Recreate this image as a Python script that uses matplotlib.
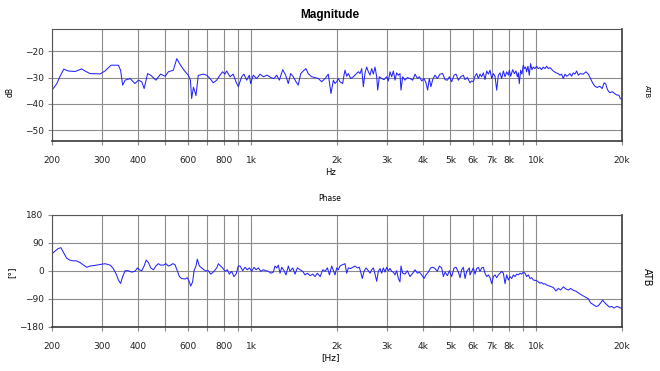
import matplotlib
matplotlib.use("Agg")
import matplotlib.pyplot as plt
from matplotlib.ticker import NullLocator, FixedLocator

# Grid / tick labels
grid_freq = [200, 300, 400, 500, 600, 700, 800, 900, 1000, 2000, 3000, 4000,
             5000, 6000, 7000, 8000, 9000, 10000, 20000]
grid_lbl = ['200', '300', '400', '', '600', '', '800', '', '1k', '2k', '3k', '4k',
            '5k', '6k', '7k', '8k', '', '10k', '20k']
mag_ticks = [-20, -30, -40, -50]
ph_ticks = [180, 90, 0, -90, -180]

# Magnitude (dB)
mag_freq = [200, 208, 213, 220, 228, 241, 254, 261, 272, 295, 307, 322, 342, 348, 354,
            361, 376, 391, 402, 413, 421, 433, 444, 463, 481, 499, 512, 533, 548, 562,
            581, 601, 612, 618, 627, 635, 640, 652,
            679, 698, 717, 736, 757, 777, 794, 809, 820, 843, 865, 884, 901, 926, 943,
            964, 985, 995, 1017, 1045, 1074, 1103, 1139, 1170, 1202, 1229, 1255, 1290,
            1321, 1349, 1376, 1405, 1436, 1462, 1492, 1523, 1556, 1585, 1629, 1674,
            1720, 1768, 1816, 1864, 1905,
            1942, 1968, 1995, 2022, 2049, 2094, 2116, 2134, 2163, 2192, 2234, 2283,
            2332, 2377, 2409, 2442, 2475, 2508, 2542, 2577, 2612, 2647, 2683, 2719,
            2756, 2779, 2816, 2869, 2924, 2988, 3028, 3069, 3111, 3153, 3196, 3239,
            3283, 3327, 3354, 3400, 3465, 3531, 3608, 3687, 3758, 3829, 3891, 3966,
            4041, 4105, 4160, 4216, 4273, 4331, 4415, 4499, 4596, 4697, 4788, 4880,
            4959, 5053, 5150, 5234, 5334, 5435, 5551, 5628, 5736, 5829,
            5858, 5938, 6018, 6100, 6183, 6266, 6351, 6437, 6525, 6613, 6703, 6794,
            6886, 6980, 7074, 7170, 7267, 7366, 7466, 7567, 7670, 7774, 7879, 7986,
            8051, 8138, 8271, 8382, 8494, 8585, 8654, 8724, 8818, 8913, 9009, 9082,
            9180, 9254, 9354, 9455, 9557, 9660, 9764, 9896, 10031, 10167, 10305,
            10445, 10587, 10730, 10876, 11024, 11173, 11479, 11730, 11953, 12115,
            12280, 12446, 12615, 12786, 12959, 13135, 13313, 13494, 13677, 13862,
            14050, 14241, 14629, 14946, 15229, 15517, 15767, 16065, 16370, 16724,
            17040, 17315, 17547, 17782, 18117, 18503, 18850, 19206, 19514, 19722, 20000]
mag_db = [-34.8, -32.3, -29.7, -26.8, -27.5, -27.7, -26.7, -27.5, -28.5, -28.6, -27.5,
          -25.3, -25.3, -27.2, -32.9, -31.0, -30.4, -32.3, -31.0, -31.6, -34.2, -28.5,
          -29.1, -31.0, -28.7, -29.5, -27.8, -27.2, -22.8, -24.9, -27.2, -29.1, -31.0,
          -38.0, -33.7, -35.5, -36.9, -29.2,
          -28.7, -29.1, -30.4, -32.0, -31.0, -29.1, -27.8, -28.7, -27.5, -29.7, -28.7,
          -31.6, -33.5, -29.7, -28.7, -31.0, -29.1, -32.3, -29.1, -30.4, -28.7, -29.7,
          -29.1, -30.0, -30.4, -29.1, -31.0, -27.0, -29.1, -32.3, -28.5, -29.7, -31.6,
          -32.9, -28.5, -27.5, -26.6, -28.5, -29.7, -30.0, -30.4, -31.6, -30.4, -28.7,
          -36.1,
          -31.0, -32.3, -31.6, -30.4, -31.6, -32.3, -29.1, -27.2, -29.5, -28.5, -30.4,
          -29.7, -28.7, -27.8, -28.5, -26.6, -33.5, -28.2, -26.0, -27.8, -29.1, -26.6,
          -28.7, -26.0, -29.7, -34.8, -29.7, -30.4, -30.8, -29.7, -31.3, -27.8, -29.7,
          -27.5, -31.0, -28.2, -29.1, -28.5, -34.8, -29.7, -31.0, -30.0, -30.4, -31.0,
          -28.7, -30.4, -29.7, -31.3, -30.4, -32.0, -34.8, -30.4, -33.5, -30.8, -29.1,
          -30.4, -28.7, -28.5, -30.8, -31.0, -29.7, -31.6, -29.1, -28.7, -31.0, -29.7,
          -29.1, -30.8, -30.0, -31.6,
          -32.0, -31.3, -31.6, -29.5, -28.5, -30.4, -28.7, -29.7, -28.2, -30.8, -27.5,
          -28.7, -27.2, -30.4, -28.5, -29.5, -34.8, -29.1, -28.2, -30.4, -27.5, -29.7,
          -27.8, -29.1, -27.2, -29.5, -27.0, -28.5, -27.5, -29.7, -28.2, -32.3, -27.2,
          -28.7, -25.3, -26.6, -26.0, -27.8, -25.7, -29.1, -24.7, -27.0, -26.0, -26.6,
          -25.7, -26.6, -26.2, -27.0, -26.0, -26.6, -25.7, -26.6, -26.2, -27.5, -28.2,
          -28.5, -29.1, -28.7, -30.4, -28.7, -29.5, -29.1, -28.5, -29.5, -28.2, -28.7,
          -27.5, -29.1, -28.5, -28.7, -27.8, -28.7, -30.4, -32.0, -33.3, -33.8, -33.3,
          -34.2, -32.0, -32.5, -34.6, -35.8, -35.4, -36.1, -36.7, -36.7, -38.0, -38.4]

# Phase (degrees)
ph_freq = [200, 205, 210, 215, 219, 225, 231, 238, 244, 251, 258, 265, 272, 283, 295,
           307, 320, 328, 337, 342, 348, 354, 361, 370, 381, 391, 399, 405, 413, 421,
           428, 436, 444, 454, 463, 472, 481, 492, 502, 512, 522, 530, 540, 551, 560,
           570, 586, 597, 607, 613, 623, 630,
           640, 647, 658, 670, 689, 707, 721, 736, 757, 767, 781, 794, 809, 825, 838,
           854, 870, 885, 901, 914, 934, 951, 969, 985, 1004, 1023, 1040, 1060, 1080,
           1103, 1127, 1149, 1170, 1196, 1212, 1229, 1245, 1262, 1280, 1304, 1325,
           1350, 1368, 1398, 1425, 1452, 1484, 1516, 1545, 1574, 1609, 1644, 1675,
           1707, 1745, 1783, 1817, 1851, 1881, 1917,
           1968, 1995, 2022, 2049, 2077, 2104, 2134, 2163, 2192, 2234, 2270, 2313,
           2358, 2396, 2422, 2454, 2488, 2528, 2577, 2612, 2647, 2683, 2719, 2756,
           2793, 2831, 2869, 2908, 2948, 2988, 3028, 3069, 3111, 3153, 3196, 3239,
           3283, 3327, 3354, 3400, 3465, 3531, 3608, 3687, 3758, 3829, 3891, 3966,
           4041, 4105, 4183, 4262, 4331, 4415, 4499, 4572, 4659, 4722, 4788, 4880,
           4959, 5053, 5150, 5234, 5334, 5405, 5476, 5551, 5628, 5704, 5829,
           5858, 5938, 6018, 6100, 6183, 6266, 6351, 6437, 6525, 6613, 6703, 6794,
           6886, 6980, 7074, 7170, 7267, 7366, 7466, 7567, 7670, 7774, 7879, 7986,
           8094, 8205, 8316, 8428, 8543, 8658, 8775, 8894, 9014, 9136, 9260, 9385,
           9513, 9642, 9771, 10041, 10310, 10453, 10593, 10738, 10883, 11183, 11486,
           11730, 11953, 12188, 12446, 12726, 12959, 13211, 13494, 13793, 14050,
           14324, 14629, 14946, 15229, 15517, 15870, 16214, 16523, 16838, 17112,
           17315, 17672, 18059, 18404, 18754, 19160, 19525, 19722, 20000]
ph_deg = [54, 63, 71, 74, 60, 40.5, 34, 31.5, 31.5, 26, 18, 11, 15, 17, 20, 22.5, 18, 7,
          -13.5, -30, -41, -19, 0, 0, -4.5, -2, 9, 3, 0, 15, 34, 26, 9, 3, 15, 22.5, 18,
          18, 22.5, 15, 18, 22.5, 20, -2, -19, -25, -27, -22.5, -36, -49.5, -36, 0,
          15, 37, 15, 9, 0, 0, -11, -4.5, 9, 22.5, 15, 9, -2, 3, -11, -2, -19, -11, 15,
          15, 0, 11, 3, 9, -2, 11, 3, 9, -2, 3, 0, -2, -8, -4.5, 15, 9, 18, -8, 11, 0,
          -13.5, 15, -2, 9, -11, 9, 3, -2, -13.5, -8, -16, -11, -19, -8, -19, 3, -2, 9,
          -13.5, 15,
          -13.5, 9, 3, 15, 18, 20, 22.5, -8, 9, 7, 11, 15, 9, 11, -4.5, -25, -2, 9, 0,
          -8, 3, 9, -11, -34, -2, 7, -8, 9, -4.5, 11, 0, 7, -2, -4.5, -13.5, 0, -25,
          -36, 15, -8, -11, 0, -19, -8, 3, -8, -4.5, -13.5, -25, -13.5, -4.5, 9, 11, 7,
          -2, 15, 9, -19, -4.5, -16, 0, -19, 9, 11, -4.5, -22.5, 3, 11, -25, -2, 9,
          -13.5, -2, 9, -11, 7, 11, -2, 9, 11, -8, -19, -13.5, -22.5, -41.6, -19, -13.5,
          -22.5, -13.5, -8, -2, -8, -41.6, -13.5, -30, -19, -25, -13.5, -19, -11, -13.5,
          -8, -11, -4.5, -8, -19, -13.5, -25, -22.5, -30, -32, -40, -38, -43, -42,
          -46, -50, -54, -65, -57, -62, -52, -59, -62, -57, -63, -66, -71,
          -76, -81, -86, -90, -103.5, -109, -115, -112.5, -103.5, -94.5, -101, -109,
          -117, -115, -120, -115, -117, -120, -119]

line_color = '#2424ff'
grid_color = '#8c8c8c'
tick_fs = 6.5

fig = plt.figure(figsize=(6.6, 3.71), dpi=100)
ax1 = fig.add_axes([0.0788, 0.6199, 0.8636, 0.3019])
ax2 = fig.add_axes([0.0788, 0.1194, 0.8636, 0.3019])


def style_axis(ax, yticks):
    ax.set_xscale('log')
    ax.set_xlim(200, 20000)
    ax.xaxis.set_major_locator(FixedLocator(grid_freq))
    ax.xaxis.set_minor_locator(NullLocator())
    ax.set_xticklabels(grid_lbl)
    ax.set_yticks(yticks)
    ax.grid(True, color=grid_color, lw=0.8)
    ax.set_axisbelow(True)
    ax.tick_params(axis='both', length=3, width=0.8, color=grid_color,
                   labelsize=tick_fs, labelcolor='#222222')
    ax.tick_params(axis='x', pad=8)
    ax.tick_params(axis='y', pad=3)
    for side in ['top', 'left']:
        ax.spines[side].set_color('#555555')
        ax.spines[side].set_linewidth(0.8)
    for side in ['right', 'bottom']:
        ax.spines[side].set_color('#3a3a3a')
        ax.spines[side].set_linewidth(1.2)


# Magnitude
ax1.plot(mag_freq, mag_db, color=line_color, lw=0.75)
style_axis(ax1, mag_ticks)
ax1.set_ylim(-54.2, -11.5)
fig.text(0.5, 0.96, 'Magnitude', ha='center', va='center', fontsize=8.5,
         fontweight='bold', family='Liberation Sans')
fig.text(0.5, 0.536, 'Hz', ha='center', va='center', fontsize=6)
fig.text(0.015, 0.752, 'dB', ha='center', va='center', fontsize=5.5, rotation=90)
fig.text(0.98, 0.752, 'ATB', ha='center', va='center', fontsize=5, rotation=270)

# Phase
ax2.plot(ph_freq, ph_deg, color=line_color, lw=0.75)
style_axis(ax2, ph_ticks)
ax2.set_ylim(-180, 180)
fig.text(0.5, 0.466, 'Phase', ha='center', va='center', fontsize=5.5)
fig.text(0.5, 0.035, '[Hz]', ha='center', va='center', fontsize=6.5)
fig.text(0.018, 0.267, '[°]', ha='center', va='center', fontsize=6.5, rotation=90)
fig.text(0.98, 0.253, 'ATB', ha='center', va='center', fontsize=7, rotation=270)

fig.savefig('out.png', dpi=100)
